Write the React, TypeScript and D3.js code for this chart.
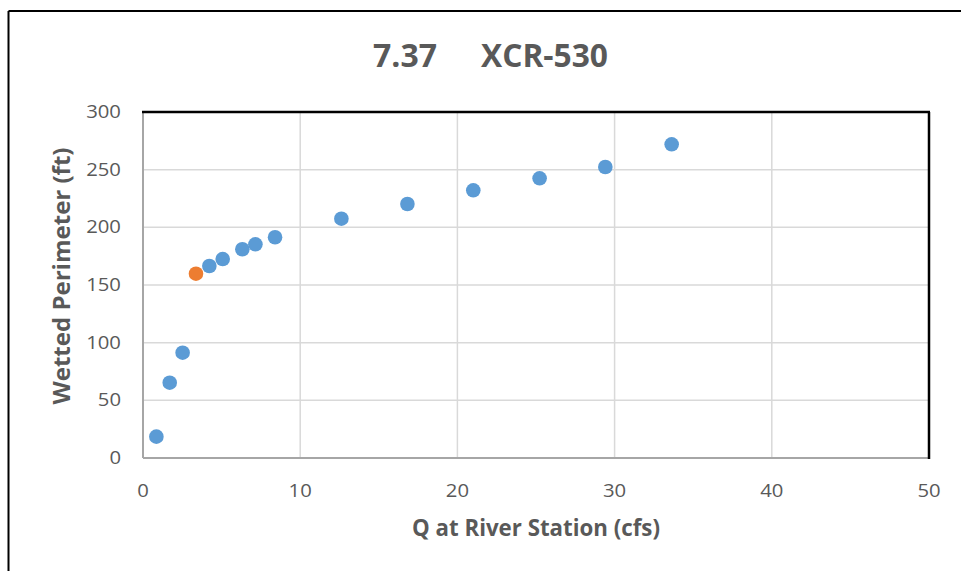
import React from "react";
import * as d3 from "d3";

const qValues = [0.85, 1.7, 2.52, 4.22, 5.07, 6.32, 7.15, 8.4, 12.62, 16.82, 21.01, 25.23, 29.41, 33.63];
const perimValues = [18.5, 65.3, 91.3, 166.5, 172.5, 181, 185.3, 191.4, 207.5, 220.2, 232.1, 242.5, 252.3, 272];
const highlightQ = [3.37];
const highlightPerim = [159.8];
const xTicks = [0, 10, 20, 30, 40, 50];
const yTicks = [0, 50, 100, 150, 200, 250, 300];
const titleParts = ["7.37", "XCR-530"];
const xTitle = "Q at River Station (cfs)";
const yTitle = "Wetted Perimeter (ft)";

const W = 961, H = 571;
const left = 143, right = 929, top = 112, bottom = 458;
const FONT = "'Open Sans', 'DejaVu Sans', sans-serif";
const TXT = "#595959";

export default function App() {
  const x = d3.scaleLinear().domain([0, 50]).range([left, right]);
  const y = d3.scaleLinear().domain([0, 300]).range([bottom, top]);
  const digitW = 11.6;
  return (
    <svg width={W} height={H} style={{ position: "absolute", left: 0, top: 0, background: "#fff" }}>
      <rect x={0} y={0} width={W} height={H} fill="#fff" />
      {/* outer frame */}
      <line x1={8.5} y1={11} x2={W} y2={11} stroke="#000" strokeWidth={2} />
      <line x1={8.5} y1={11} x2={8.5} y2={H} stroke="#000" strokeWidth={2} />
      {/* title */}
      <text x={373} y={67} fontFamily={FONT} fontWeight="bold" fontSize={33} fill={TXT} textLength={64} lengthAdjust="spacingAndGlyphs">{titleParts[0]}</text>
      <text x={481} y={67} fontFamily={FONT} fontWeight="bold" fontSize={33} fill={TXT} textLength={127} lengthAdjust="spacingAndGlyphs">{titleParts[1]}</text>
      {/* gridlines */}
      {yTicks.filter(t => t > 0 && t < 300).map(t => (
        <line key={"gy" + t} x1={left} x2={right} y1={y(t)} y2={y(t)} stroke="#D9D9D9" strokeWidth={1.5} />
      ))}
      {xTicks.filter(t => t > 0 && t < 50).map(t => (
        <line key={"gx" + t} x1={x(t)} x2={x(t)} y1={top} y2={bottom} stroke="#D9D9D9" strokeWidth={1.5} />
      ))}
      {/* axes */}
      <line x1={left} x2={right} y1={bottom} y2={bottom} stroke="#A6A6A6" strokeWidth={2} />
      <line x1={left} x2={left} y1={top} y2={bottom} stroke="#A6A6A6" strokeWidth={2} />
      <line x1={left - 1} x2={right + 1} y1={top} y2={top} stroke="#000" strokeWidth={2.5} />
      <line x1={right} x2={right} y1={top} y2={bottom + 1} stroke="#000" strokeWidth={2.5} />
      {/* tick labels */}
      {yTicks.map(t => (
        <text key={"yl" + t} x={121} y={y(t) + 6} textAnchor="end" fontFamily={FONT} fontSize={18} fill={TXT}
          textLength={String(t).length * digitW} lengthAdjust="spacingAndGlyphs">{t}</text>
      ))}
      {xTicks.map(t => (
        <text key={"xl" + t} x={x(t)} y={497} textAnchor="middle" fontFamily={FONT} fontSize={18} fill={TXT}
          textLength={String(t).length * digitW} lengthAdjust="spacingAndGlyphs">{t}</text>
      ))}
      {/* axis titles */}
      <text x={536} y={536} textAnchor="middle" fontFamily={FONT} fontWeight="bold" fontSize={23} fill={TXT} textLength={248} lengthAdjust="spacingAndGlyphs">{xTitle}</text>
      <text transform={`translate(70,${276}) rotate(-90)`} textAnchor="middle" fontFamily={FONT} fontWeight="bold" fontSize={23} fill={TXT} textLength={257} lengthAdjust="spacingAndGlyphs">{yTitle}</text>
      {/* points */}
      {qValues.map((q, i) => (
        <circle key={"p" + i} cx={x(q)} cy={y(perimValues[i])} r={7.3} fill="#5B9BD5" />
      ))}
      {highlightQ.map((q, i) => (
        <circle key={"h" + i} cx={x(q)} cy={y(highlightPerim[i])} r={7.3} fill="#ED7D31" />
      ))}
    </svg>
  );
}
